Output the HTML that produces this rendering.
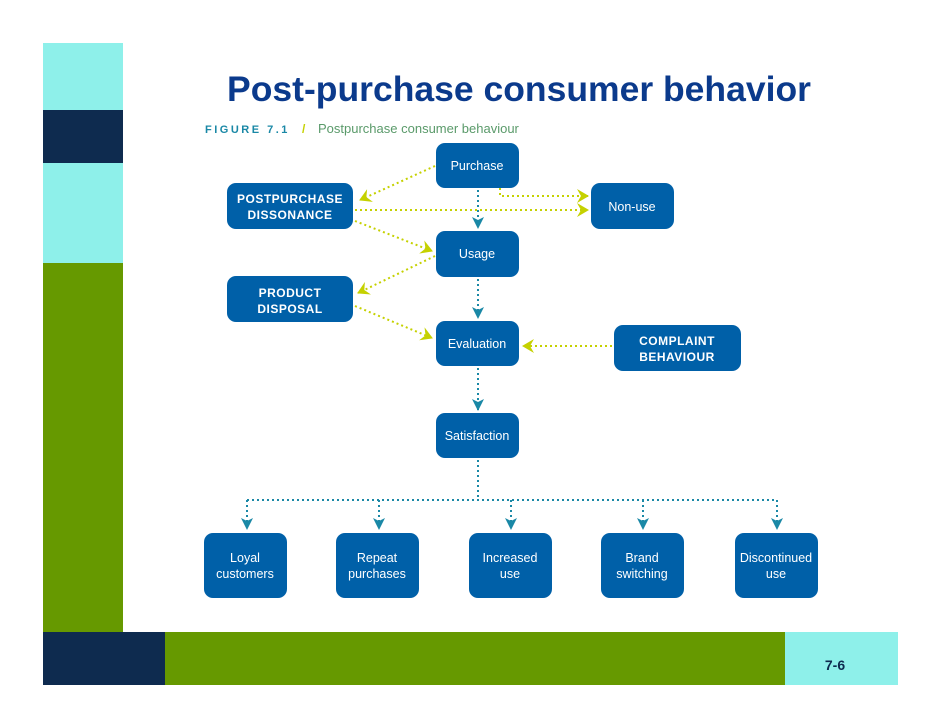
<!DOCTYPE html>
<html><head><meta charset="utf-8"><style>
body{margin:0;width:942px;height:728px;background:#fff;overflow:hidden;font-family:"Liberation Sans",sans-serif}
</style></head><body>
<svg width="942" height="728" viewBox="0 0 942 728" xmlns="http://www.w3.org/2000/svg" style="position:absolute;left:0;top:0">
<defs>
<marker id="y" markerWidth="14" markerHeight="14" refX="11" refY="7" orient="auto" markerUnits="userSpaceOnUse"><path d="M0,0 L12,7 L0,14 L4,7 z" fill="#c5d100"/></marker>
<marker id="t" markerWidth="14" markerHeight="14" refX="11" refY="6" orient="auto" markerUnits="userSpaceOnUse"><path d="M0,0 L12,6 L0,12 L3,6 z" fill="#1a88a6"/></marker>
</defs>
<rect x="43" y="43" width="80" height="67" fill="#8ef0ea"/>
<rect x="43" y="110" width="80" height="53" fill="#0e2b4f"/>
<rect x="43" y="163" width="80" height="100" fill="#8ef0ea"/>
<rect x="43" y="263" width="80" height="369" fill="#669900"/>
<rect x="43" y="632" width="122" height="53" fill="#0e2b4f"/>
<rect x="165" y="632" width="620" height="53" fill="#669900"/>
<rect x="785" y="632" width="113" height="53" fill="#8ef0ea"/>
<text x="835" y="670" font-size="14" font-weight="bold" fill="#0e2b4f" text-anchor="middle">7-6</text>
<text x="519" y="101" font-size="35.5" font-weight="bold" fill="#0b3a8c" text-anchor="middle">Post-purchase consumer behavior</text>
<text x="205" y="133" font-size="11" font-weight="bold" fill="#1a88a6" letter-spacing="2.5">FIGURE 7.1</text>
<text x="302" y="133" font-size="12" font-weight="bold" fill="#c5d100">/</text>
<text x="318" y="133" font-size="13" fill="#5a9a6a">Postpurchase consumer behaviour</text>
<g fill="none" stroke-width="2" stroke-dasharray="2,3">
<g stroke="#c5d100">
<path d="M435,166 L360,200" marker-end="url(#y)"/>
<path d="M500,188 L500,196 L588,196" marker-end="url(#y)"/>
<path d="M355,210 L588,210" marker-end="url(#y)"/>
<path d="M355,221 L432,251" marker-end="url(#y)"/>
<path d="M435,256 L358,293" marker-end="url(#y)"/>
<path d="M355,306 L432,338" marker-end="url(#y)"/>
<path d="M612,346 L523,346" marker-end="url(#y)"/>
</g>
<g stroke="#1a88a6">
<path d="M478,190 L478,228" marker-end="url(#t)"/>
<path d="M478,279 L478,318" marker-end="url(#t)"/>
<path d="M478,368 L478,410" marker-end="url(#t)"/>
<path d="M478,460 L478,500"/>
<path d="M247,500 L777,500"/>
<path d="M247,500 L247,529" marker-end="url(#t)"/>
<path d="M379,500 L379,529" marker-end="url(#t)"/>
<path d="M511,500 L511,529" marker-end="url(#t)"/>
<path d="M643,500 L643,529" marker-end="url(#t)"/>
<path d="M777,500 L777,529" marker-end="url(#t)"/>
</g>
</g>
<g fill="#0060a8">
<rect x="436" y="143" width="83" height="45" rx="9"/>
<rect x="227" y="183" width="126" height="46" rx="9"/>
<rect x="591" y="183" width="83" height="46" rx="9"/>
<rect x="436" y="231" width="83" height="46" rx="9"/>
<rect x="227" y="276" width="126" height="46" rx="9"/>
<rect x="436" y="321" width="83" height="45" rx="9"/>
<rect x="614" y="325" width="127" height="46" rx="9"/>
<rect x="436" y="413" width="83" height="45" rx="9"/>
<rect x="204" y="533" width="83" height="65" rx="9"/>
<rect x="336" y="533" width="83" height="65" rx="9"/>
<rect x="469" y="533" width="83" height="65" rx="9"/>
<rect x="601" y="533" width="83" height="65" rx="9"/>
<rect x="735" y="533" width="83" height="65" rx="9"/>
</g>
<g fill="#fff" font-size="12.5" text-anchor="middle">
<text x="477" y="170">Purchase</text>
<text x="632" y="211">Non-use</text>
<text x="477" y="258">Usage</text>
<text x="477" y="348">Evaluation</text>
<text x="477" y="440">Satisfaction</text>
<text x="245" y="562">Loyal</text><text x="245" y="578">customers</text>
<text x="377" y="562">Repeat</text><text x="377" y="578">purchases</text>
<text x="510" y="562">Increased</text><text x="510" y="578">use</text>
<text x="642" y="562">Brand</text><text x="642" y="578">switching</text>
<text x="776" y="562">Discontinued</text><text x="776" y="578">use</text>
<g font-weight="bold" font-size="12" letter-spacing="0.5">
<text x="290" y="203">POSTPURCHASE</text><text x="290" y="219">DISSONANCE</text>
<text x="290" y="297">PRODUCT</text><text x="290" y="313">DISPOSAL</text>
<text x="677" y="345">COMPLAINT</text><text x="677" y="361">BEHAVIOUR</text>
</g>
</g>
</svg>
</body></html>
